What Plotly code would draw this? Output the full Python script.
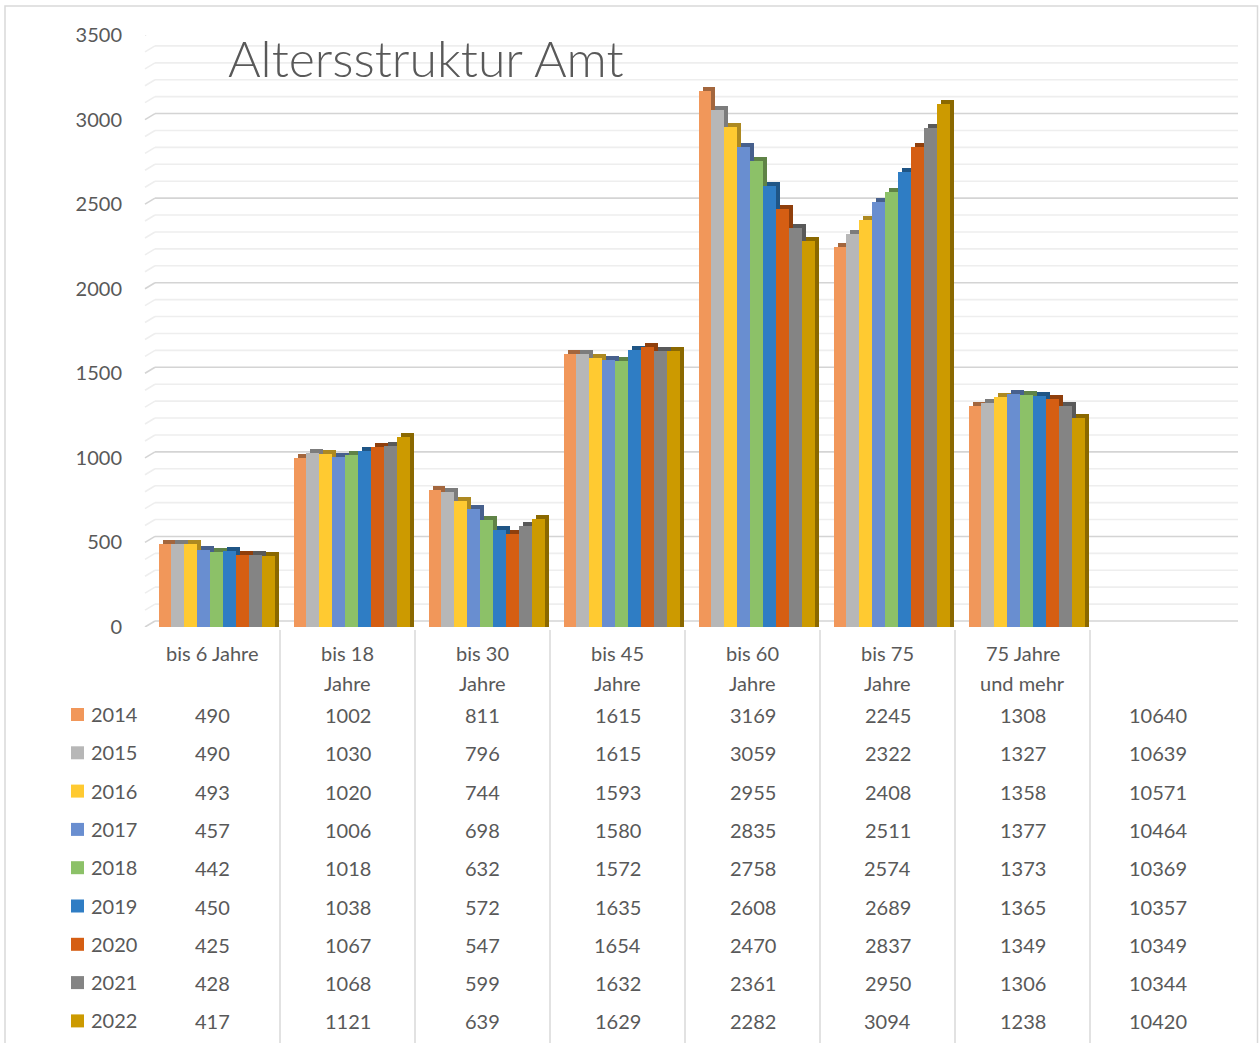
import plotly.graph_objects as go

# ---------------- data ----------------
categories = ["bis 6 Jahre", "bis 18\nJahre", "bis 30\nJahre", "bis 45\nJahre",
              "bis 60\nJahre", "bis 75\nJahre", "75 Jahre\nund mehr", ""]
years = ["2014", "2015", "2016", "2017", "2018", "2019", "2020", "2021", "2022"]
v2014 = [490, 1002, 811, 1615, 3169, 2245, 1308, 10640]
v2015 = [490, 1030, 796, 1615, 3059, 2322, 1327, 10639]
v2016 = [493, 1020, 744, 1593, 2955, 2408, 1358, 10571]
v2017 = [457, 1006, 698, 1580, 2835, 2511, 1377, 10464]
v2018 = [442, 1018, 632, 1572, 2758, 2574, 1373, 10369]
v2019 = [450, 1038, 572, 1635, 2608, 2689, 1365, 10357]
v2020 = [425, 1067, 547, 1654, 2470, 2837, 1349, 10349]
v2021 = [428, 1068, 599, 1632, 2361, 2950, 1306, 10344]
v2022 = [417, 1121, 639, 1629, 2282, 3094, 1238, 10420]
series = [v2014, v2015, v2016, v2017, v2018, v2019, v2020, v2021, v2022]
y_ticks = [0, 500, 1000, 1500, 2000, 2500, 3000, 3500]

colors = ["#F1975A", "#B7B7B7", "#FFCA31", "#698ED0", "#8CC168",
          "#2F7DC4", "#D55E13", "#848484", "#CC9A00"]

def darker(hexc, f=0.68):
    r, g, b = int(hexc[1:3], 16), int(hexc[3:5], 16), int(hexc[5:7], 16)
    return "rgb(%d,%d,%d)" % (r * f, g * f, b * f)

W, H = 1260, 1043
TXT = "#595959"
FONT = "Lato"

# pixel geometry
X_LEFT, X_RIGHT = 145, 1225          # plot x extent (8 categories)
Y_ZERO, Y_TOP = 627, 35              # front plane 0 .. 3500
YMAX = 3500
cat_w = (X_RIGHT - X_LEFT) / len(categories)
px_per_unit = (Y_ZERO - Y_TOP) / YMAX

def fx(px):
    return px / W

def fy(py):
    return 1 - py / H

bar_w = 12.9 / cat_w
first_off = -0.5 + 13.5 / cat_w
dx = 4 / cat_w
dz = 4 / px_per_unit

n_plot = 7  # the totals column carries no bars
xs = list(range(n_plot))

fig = go.Figure()
for j, (yr, vals, col) in enumerate(zip(years, series, colors)):
    off = first_off + j * bar_w
    fig.add_trace(go.Bar(
        x=xs, y=[v + dz for v in vals[:n_plot]], offset=off + dx, width=bar_w,
        marker=dict(color=darker(col), line=dict(width=0)),
        showlegend=False, hoverinfo="skip"))
    fig.add_trace(go.Bar(
        x=xs, y=vals[:n_plot], offset=off, width=bar_w, name=yr,
        marker=dict(color=col, line=dict(width=0)),
        showlegend=False))

shapes = []
# back-wall gridlines with slanted left ends
for v in range(0, YMAX + 1, 100):
    major = v % 500 == 0
    c = "#D4D4D4" if major else "#EEEEEE"
    shapes.append(dict(type="line", xref="paper", yref="y", ysizemode="pixel", yanchor=v,
                       x0=fx(X_LEFT), x1=fx(155), y0=0, y1=6,
                       line=dict(color=c, width=1.6), layer="below"))
    shapes.append(dict(type="line", xref="paper", yref="y", ysizemode="pixel", yanchor=v,
                       x0=fx(155), x1=fx(1238), y0=6, y1=6,
                       line=dict(color=c, width=1.6), layer="below"))

# outer border
shapes.append(dict(type="rect", xref="paper", yref="paper",
                   x0=fx(5), x1=fx(1257.5), y0=fy(1060), y1=fy(6),
                   line=dict(color="#D9D9D9", width=1.5), fillcolor="rgba(0,0,0,0)"))

# data-table vertical lines
for k in range(1, len(categories)):
    shapes.append(dict(type="line", xref="x", yref="paper",
                       x0=k - 0.5, x1=k - 0.5, y0=fy(1060), y1=fy(630),
                       line=dict(color="#D9D9D9", width=1.5)))

annotations = []
# title
annotations.append(dict(text="Altersstruktur Amt", xref="paper", yref="paper",
                        x=fx(226), y=fy(58), xanchor="left", yanchor="middle",
                        showarrow=False,
                        font=dict(family=FONT, size=50, color=TXT, weight=300)))

# category headers
for i, lab in enumerate(categories):
    for k, line in enumerate(lab.split("\n")):
        if not line:
            continue
        annotations.append(dict(text=line, xref="x", yref="paper", x=i, y=fy(653 + 30 * k),
                                xanchor="center", yanchor="middle", showarrow=False,
                                font=dict(family=FONT, size=20, color=TXT)))

# table rows
row0, row_step = 714, 38.3
for r, (yr, vals, col) in enumerate(zip(years, series, colors)):
    yc = row0 + r * row_step
    shapes.append(dict(type="rect", xref="paper", yref="paper",
                       x0=fx(71), x1=fx(84), y0=fy(yc + 7), y1=fy(yc - 6),
                       fillcolor=col, line=dict(width=0)))
    annotations.append(dict(text=yr, xref="paper", yref="paper", x=fx(89), y=fy(yc),
                            xanchor="left", yanchor="middle", showarrow=False,
                            font=dict(family=FONT, size=20, color=TXT)))
    for i, v in enumerate(vals):
        annotations.append(dict(text=str(v), xref="x", yref="paper", x=i, y=fy(yc + 1),
                                xanchor="center", yanchor="middle", showarrow=False,
                                font=dict(family=FONT, size=20, color=TXT)))

fig.update_layout(
    width=W, height=H, autosize=False,
    margin=dict(l=0, r=0, t=0, b=0, pad=0, autoexpand=False),
    paper_bgcolor="white", plot_bgcolor="rgba(0,0,0,0)",
    barmode="overlay", bargap=0,
    xaxis=dict(domain=[fx(X_LEFT), fx(X_RIGHT)], range=[-0.5, len(categories) - 0.5],
               visible=False, fixedrange=True, automargin=False),
    yaxis=dict(domain=[fy(Y_ZERO), fy(Y_TOP)], range=[0, YMAX], tickvals=y_ticks,
               showgrid=False, zeroline=False, showline=False, ticks="",
               ticklabelstandoff=22, automargin=False,
               tickfont=dict(family=FONT, size=20, color=TXT), fixedrange=True),
    shapes=shapes, annotations=annotations,
    showlegend=False,
)

fig.write_html(
    "out.html",
    config={"displayModeBar": False},
    post_script="document.body.style.margin='0';document.body.style.padding='0';"
                "document.body.style.overflow='hidden';"
                "document.documentElement.style.overflow='hidden';",
)
